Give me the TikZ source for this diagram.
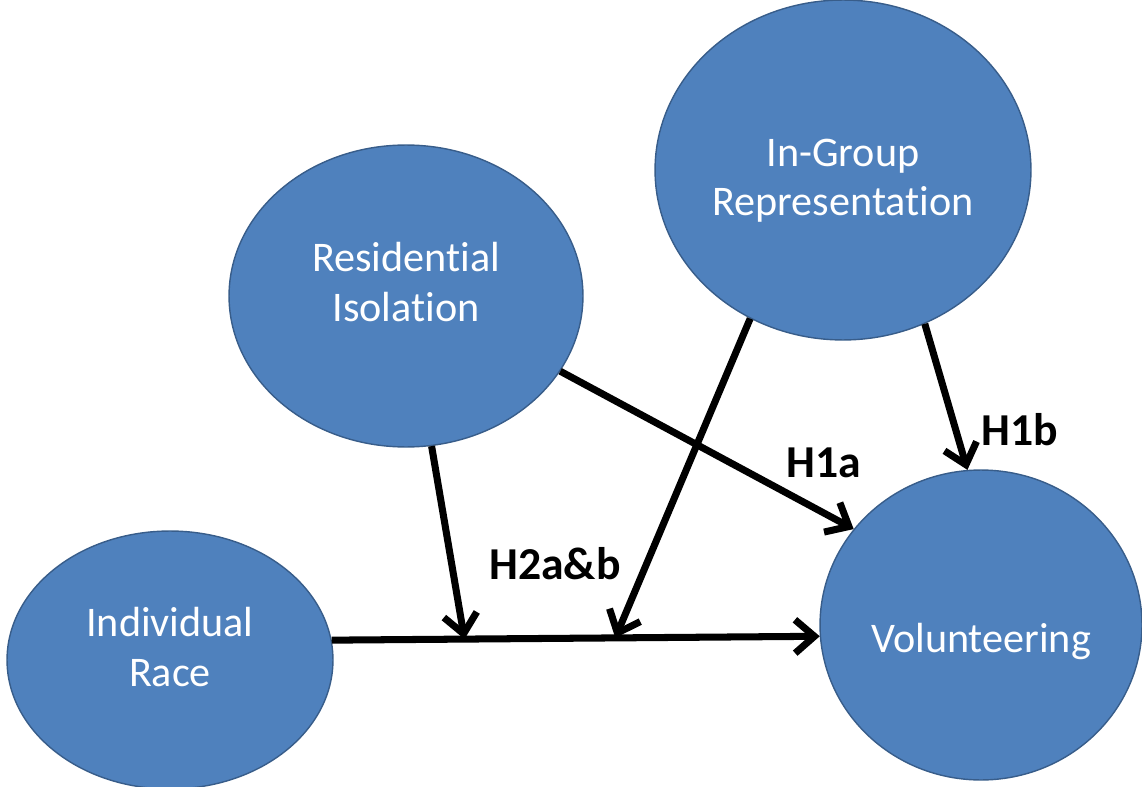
\documentclass[tikz,border=0pt]{standalone}
\usepackage{fontspec}
\setmainfont[Ligatures=NoCommon]{Carlito}
\usetikzlibrary{shapes, arrows.meta, calc, positioning}
\definecolor{blobfill}{HTML}{4F81BD}
\definecolor{blobedge}{HTML}{385D8A}

\begin{document}
\begin{tikzpicture}[x=0.02cm, y=-0.02cm,
        blob/.style={draw=blobedge, line width=0.8pt, fill=blobfill, ellipse, inner sep=0pt},
        txt/.style={text=white, align=center, font=\fontsize{24}{28}\selectfont},
        hyp/.style={font=\fontsize{26}{30}\selectfont\bfseries},
        link/.style={line width=4pt, -{Straight Barb[length=11pt, width=19pt]}}]
        \useasboundingbox (0,0) rectangle (1142,787);

        \node [blob, minimum width=6.52cm, minimum height=5.16cm, label={[txt, yshift=0.26cm]center:Individual\\Race}] (IR) at (170,660) {};
        \node [blob, minimum width=7.08cm, minimum height=6.04cm, label={[txt, yshift=0.28cm]center:Residential\\Isolation}] (RI) at (406,296) {};
        \node [blob, minimum width=7.52cm, minimum height=6.8cm, label={[txt, yshift=-0.22cm]center:In-Group\\Representation}] (IG) at (843,170) {};
        \node [blob, minimum width=6.44cm, minimum height=6.2cm, label={[txt, yshift=-0.32cm]center:Volunteering}] (VO) at (981,625) {};

        % points where the moderators hit the main path
        \coordinate (J1) at ($(IR.7)!0.272!(VO.184)$);
        \coordinate (J2) at ($(IR.7)!0.581!(VO.184)$);

        \draw [link] (IR.7) -- (VO.184);
        \draw [link] (RI) -- (J1);
        \draw [link] (IG.-122) -- (J2);
        \draw [link] (RI.-26) -- (VO.143);
        \draw [link] (IG.-62) -- (VO.95);

        \node [hyp] (H1a) at (824,463) {H1a};
        \node [hyp] (H1b) at (1020,430) {H1b};
        \node [hyp] (H2) at (555,564) {H2a\&b};
\end{tikzpicture}
\end{document}
